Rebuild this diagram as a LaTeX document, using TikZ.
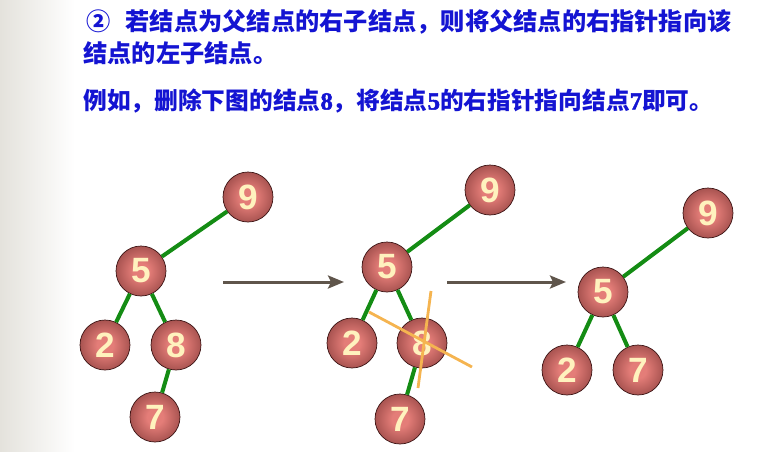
\documentclass[tikz,border=0pt]{standalone}
\usepackage{fontspec}
\setsansfont{Liberation Sans}
\newfontfamily\cjk{Noto Sans CJK SC}
\newfontfamily\numfont[FakeBold=2]{Liberation Serif Bold}
\usetikzlibrary{positioning,arrows.meta,calc}
\definecolor{txtblue}{RGB}{20,20,210}
\definecolor{edgegreen}{RGB}{20,140,20}
\definecolor{ballhi}{RGB}{228,125,120}
\definecolor{balllo}{RGB}{92,30,30}
\definecolor{ballrim}{RGB}{60,20,20}
\definecolor{digit}{RGB}{255,242,190}
\definecolor{arrowgray}{RGB}{95,85,75}
\definecolor{crossor}{RGB}{245,180,80}
\definecolor{stripgray}{RGB}{228,226,220}
\pgfdeclareradialshading{ballshade}{\pgfpoint{0bp}{0bp}}{%
  color(0bp)=(ballhi); color(8bp)=(ballhi); color(47bp)=(balllo); color(50bp)=(balllo)}
\newcommand{\nb}[1]{{\numfont\fontsize{14}{16}\selectfont #1}}
\tikzset{
  ball/.style={circle,minimum size=1cm,inner sep=0pt,draw=ballrim,thin,
    shading=ballshade,
    font=\sffamily\bfseries\fontsize{20}{20}\selectfont,text=digit},
  link/.style={edgegreen,line width=2.3pt},
  step arrow/.style={-{Stealth[length=3.2mm,width=2.6mm,inset=0.6mm]},arrowgray,line width=1.7pt},
  cross/.style={crossor,line width=1.6pt},
  say/.style={anchor=west,inner sep=0pt,text=txtblue,font=\cjk\bfseries\fontsize{13.8}{16}\selectfont},
}
\begin{document}
\begin{tikzpicture}[x=0.02cm,y=-0.02cm]
  \useasboundingbox (0,0) rectangle (779,451);
  \shade[left color=stripgray,right color=white] (0,0) rectangle (75,451);
  % text
  \node[say] (t1) at (86,22) {②\hspace{0.3cm}若结点为父结点的右子结点，则将父结点的右指针指向该};
  \node[say] (t2) at (83,53) {结点的左子结点。};
  \node[say,font=\cjk\bfseries\fontsize{13.5}{16}\selectfont] (t3) at (83,101) {例如，删除下图的结点\nb{8}，将结点\nb{5}的右指针指向结点\nb{7}即可。};
  % first tree
  \node[ball] (n9a) at (248,197) {9};
  \node[ball] (n5a) at (141,271) {5};
  \node[ball] (n2a) at (105,345) {2};
  \node[ball] (n8a) at (176,345) {8};
  \node[ball] (n7a) at (155,417) {7};
  \draw[link] (n9a) -- (n5a);
  \draw[link] (n5a) -- (n2a);
  \draw[link] (n5a) -- (n8a);
  \draw[link] (n8a) -- (n7a);
  % second tree, node 8 crossed out
  \node[ball] (n9b) at (490,190) {9};
  \node[ball] (n5b) at (387,267) {5};
  \node[ball] (n2b) at (352,343) {2};
  \node[ball] (n8b) at (422,343) {8};
  \node[ball] (n7b) at (400,419) {7};
  \draw[link] (n9b) -- (n5b);
  \draw[link] (n5b) -- (n2b);
  \draw[link] (n5b) -- (n8b);
  \draw[link] (n8b) -- (n7b);
  \draw[cross] ($(n8b)+(-53,-31)$) -- ($(n8b)+(50,24)$);
  \draw[cross] ($(n8b)+(9,-52)$) -- ($(n8b)+(-4,45)$);
  % third tree
  \node[ball] (n9c) at (708,213) {9};
  \node[ball] (n5c) at (603,292) {5};
  \node[ball] (n2c) at (567,370) {2};
  \node[ball] (n7c) at (638,370) {7};
  \draw[link] (n9c) -- (n5c);
  \draw[link] (n5c) -- (n2c);
  \draw[link] (n5c) -- (n7c);
  % arrows between the steps
  \coordinate (a1s) at (223,282);
  \coordinate (a1e) at (344,282);
  \coordinate (a2s) at (447,282);
  \coordinate (a2e) at (566,282);
  \draw[step arrow] (a1s) -- (a1e);
  \draw[step arrow] (a2s) -- (a2e);
\end{tikzpicture}
\end{document}
